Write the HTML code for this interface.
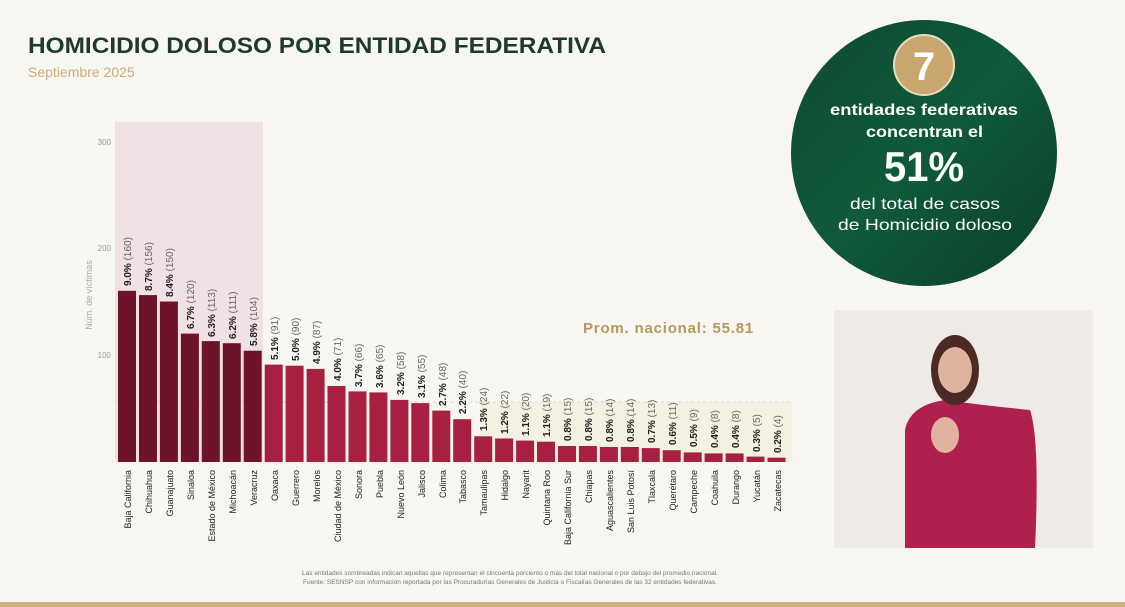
<!DOCTYPE html>
<html><head><meta charset="utf-8"><style>
html,body{margin:0;padding:0;width:1125px;height:607px;overflow:hidden;background:#f8f6f1;font-family:"Liberation Sans",sans-serif}
</style></head><body>
<svg width="1125" height="607" viewBox="0 0 1125 607" xmlns="http://www.w3.org/2000/svg" font-family="Liberation Sans, sans-serif">
<defs>
<linearGradient id="g" x1="0" y1="0" x2="1" y2="1"><stop offset="0" stop-color="#0f4a32"/><stop offset="0.5" stop-color="#0f5a3a"/><stop offset="1" stop-color="#0c3e2a"/></linearGradient>
</defs>
<rect width="1125" height="607" fill="#f8f6f1"/>
<text x="28" y="53" font-size="22" font-weight="bold" fill="#1d3a2b" textLength="578" lengthAdjust="spacingAndGlyphs">HOMICIDIO DOLOSO POR ENTIDAD FEDERATIVA</text>
<text x="28" y="77" font-size="14" fill="#c8ae72">Septiembre 2025</text>
<rect x="115" y="122" width="148" height="340" fill="#f0e2e4"/>
<rect x="480" y="402" width="312" height="60" fill="#f2f1e2"/>
<line x1="115" y1="402" x2="792" y2="402" stroke="#d8d6c0" stroke-width="1" stroke-dasharray="3,3"/>
<g font-size="8" fill="#9a9a9a" text-anchor="end">
<text x="111" y="145">300</text><text x="111" y="251">200</text><text x="111" y="358">100</text>
</g>
<text transform="translate(92,295) rotate(-90)" font-size="9" fill="#aaa" text-anchor="middle">Núm. de víctimas</text>
<text x="583" y="333" font-size="15" font-weight="bold" fill="#b29a5f" letter-spacing="0.8">Prom. nacional: 55.81</text>
<g fill="#6e1429">
<rect x="118" y="290.8" width="18" height="171.2"/><rect x="139" y="295.1" width="18" height="166.9"/><rect x="159.9" y="301.5" width="18" height="160.5"/><rect x="180.9" y="333.6" width="18" height="128.4"/><rect x="201.8" y="341.1" width="18" height="120.9"/><rect x="222.8" y="343.2" width="18" height="118.8"/><rect x="243.7" y="350.7" width="18" height="111.3"/>
</g>
<g fill="#a8203f">
<rect x="264.7" y="364.6" width="18" height="97.4"/><rect x="285.6" y="365.7" width="18" height="96.3"/><rect x="306.6" y="368.9" width="18" height="93.1"/><rect x="327.5" y="386" width="18" height="76"/><rect x="348.5" y="391.4" width="18" height="70.6"/><rect x="369.4" y="392.4" width="18" height="69.6"/><rect x="390.4" y="399.9" width="18" height="62.1"/><rect x="411.3" y="403.1" width="18" height="58.9"/><rect x="432.3" y="410.6" width="18" height="51.4"/><rect x="453.2" y="419.2" width="18" height="42.8"/><rect x="474.2" y="436.3" width="18" height="25.7"/><rect x="495.1" y="438.5" width="18" height="23.5"/><rect x="516.1" y="440.6" width="18" height="21.4"/><rect x="537" y="441.7" width="18" height="20.3"/><rect x="558" y="446" width="18" height="16"/><rect x="578.9" y="446" width="18" height="16"/><rect x="599.9" y="447" width="18" height="15"/><rect x="620.8" y="447" width="18" height="15"/><rect x="641.8" y="448.1" width="18" height="13.9"/><rect x="662.7" y="450.2" width="18" height="11.8"/><rect x="683.7" y="452.4" width="18" height="9.6"/><rect x="704.6" y="453.4" width="18" height="8.6"/><rect x="725.6" y="453.4" width="18" height="8.6"/><rect x="746.5" y="456.6" width="18" height="5.4"/><rect x="767.5" y="457.7" width="18" height="4.3"/>
</g>
<g font-size="10" fill="#222" font-weight="bold">
<text transform="translate(131,286) rotate(-90)">9.0% <tspan font-weight="normal" fill="#666">(160)</tspan></text>
<text transform="translate(152,291) rotate(-90)">8.7% <tspan font-weight="normal" fill="#666">(156)</tspan></text>
<text transform="translate(173,297) rotate(-90)">8.4% <tspan font-weight="normal" fill="#666">(150)</tspan></text>
<text transform="translate(194,329) rotate(-90)">6.7% <tspan font-weight="normal" fill="#666">(120)</tspan></text>
<text transform="translate(215,337) rotate(-90)">6.3% <tspan font-weight="normal" fill="#666">(113)</tspan></text>
<text transform="translate(236,339) rotate(-90)">6.2% <tspan font-weight="normal" fill="#666">(111)</tspan></text>
<text transform="translate(257,346) rotate(-90)">5.8% <tspan font-weight="normal" fill="#666">(104)</tspan></text>
<text transform="translate(278,360) rotate(-90)">5.1% <tspan font-weight="normal" fill="#666">(91)</tspan></text>
<text transform="translate(299,361) rotate(-90)">5.0% <tspan font-weight="normal" fill="#666">(90)</tspan></text>
<text transform="translate(320,364) rotate(-90)">4.9% <tspan font-weight="normal" fill="#666">(87)</tspan></text>
<text transform="translate(341,381) rotate(-90)">4.0% <tspan font-weight="normal" fill="#666">(71)</tspan></text>
<text transform="translate(362,387) rotate(-90)">3.7% <tspan font-weight="normal" fill="#666">(66)</tspan></text>
<text transform="translate(383,388) rotate(-90)">3.6% <tspan font-weight="normal" fill="#666">(65)</tspan></text>
<text transform="translate(404,395) rotate(-90)">3.2% <tspan font-weight="normal" fill="#666">(58)</tspan></text>
<text transform="translate(425,398) rotate(-90)">3.1% <tspan font-weight="normal" fill="#666">(55)</tspan></text>
<text transform="translate(446,406) rotate(-90)">2.7% <tspan font-weight="normal" fill="#666">(48)</tspan></text>
<text transform="translate(466,414) rotate(-90)">2.2% <tspan font-weight="normal" fill="#666">(40)</tspan></text>
<text transform="translate(487,431) rotate(-90)">1.3% <tspan font-weight="normal" fill="#666">(24)</tspan></text>
<text transform="translate(508,434) rotate(-90)">1.2% <tspan font-weight="normal" fill="#666">(22)</tspan></text>
<text transform="translate(529,436) rotate(-90)">1.1% <tspan font-weight="normal" fill="#666">(20)</tspan></text>
<text transform="translate(550,437) rotate(-90)">1.1% <tspan font-weight="normal" fill="#666">(19)</tspan></text>
<text transform="translate(571,441) rotate(-90)">0.8% <tspan font-weight="normal" fill="#666">(15)</tspan></text>
<text transform="translate(592,441) rotate(-90)">0.8% <tspan font-weight="normal" fill="#666">(15)</tspan></text>
<text transform="translate(613,442) rotate(-90)">0.8% <tspan font-weight="normal" fill="#666">(14)</tspan></text>
<text transform="translate(634,442) rotate(-90)">0.8% <tspan font-weight="normal" fill="#666">(14)</tspan></text>
<text transform="translate(655,443) rotate(-90)">0.7% <tspan font-weight="normal" fill="#666">(13)</tspan></text>
<text transform="translate(676,445) rotate(-90)">0.6% <tspan font-weight="normal" fill="#666">(11)</tspan></text>
<text transform="translate(697,447) rotate(-90)">0.5% <tspan font-weight="normal" fill="#666">(9)</tspan></text>
<text transform="translate(718,448) rotate(-90)">0.4% <tspan font-weight="normal" fill="#666">(8)</tspan></text>
<text transform="translate(739,448) rotate(-90)">0.4% <tspan font-weight="normal" fill="#666">(8)</tspan></text>
<text transform="translate(760,452) rotate(-90)">0.3% <tspan font-weight="normal" fill="#666">(5)</tspan></text>
<text transform="translate(781,453) rotate(-90)">0.2% <tspan font-weight="normal" fill="#666">(4)</tspan></text>
</g>
<g font-size="9" fill="#222" text-anchor="end">
<text transform="translate(131,470) rotate(-90)">Baja California</text>
<text transform="translate(152,470) rotate(-90)">Chihuahua</text>
<text transform="translate(173,470) rotate(-90)">Guanajuato</text>
<text transform="translate(194,470) rotate(-90)">Sinaloa</text>
<text transform="translate(215,470) rotate(-90)">Estado de México</text>
<text transform="translate(236,470) rotate(-90)">Michoacán</text>
<text transform="translate(257,470) rotate(-90)">Veracruz</text>
<text transform="translate(278,470) rotate(-90)">Oaxaca</text>
<text transform="translate(299,470) rotate(-90)">Guerrero</text>
<text transform="translate(320,470) rotate(-90)">Morelos</text>
<text transform="translate(341,470) rotate(-90)">Ciudad de México</text>
<text transform="translate(362,470) rotate(-90)">Sonora</text>
<text transform="translate(383,470) rotate(-90)">Puebla</text>
<text transform="translate(404,470) rotate(-90)">Nuevo León</text>
<text transform="translate(425,470) rotate(-90)">Jalisco</text>
<text transform="translate(446,470) rotate(-90)">Colima</text>
<text transform="translate(466,470) rotate(-90)">Tabasco</text>
<text transform="translate(487,470) rotate(-90)">Tamaulipas</text>
<text transform="translate(508,470) rotate(-90)">Hidalgo</text>
<text transform="translate(529,470) rotate(-90)">Nayarit</text>
<text transform="translate(550,470) rotate(-90)">Quintana Roo</text>
<text transform="translate(571,470) rotate(-90)">Baja California Sur</text>
<text transform="translate(592,470) rotate(-90)">Chiapas</text>
<text transform="translate(613,470) rotate(-90)">Aguascalientes</text>
<text transform="translate(634,470) rotate(-90)">San Luis Potosí</text>
<text transform="translate(655,470) rotate(-90)">Tlaxcala</text>
<text transform="translate(676,470) rotate(-90)">Querétaro</text>
<text transform="translate(697,470) rotate(-90)">Campeche</text>
<text transform="translate(718,470) rotate(-90)">Coahuila</text>
<text transform="translate(739,470) rotate(-90)">Durango</text>
<text transform="translate(760,470) rotate(-90)">Yucatán</text>
<text transform="translate(781,470) rotate(-90)">Zacatecas</text>
</g>
<g font-size="6.5" fill="#777" text-anchor="middle">
<text x="510" y="575">Las entidades sombreadas indican aquellas que representan el cincuenta porciento o más del total nacional o por debajo del promedio nacional.</text>
<text x="510" y="584">Fuente: SESNSP con información reportada por las Procuradurías Generales de Justicia o Fiscalías Generales de las 32 entidades federativas.</text>
</g>
<circle cx="924" cy="153" r="133" fill="url(#g)"/>
<circle cx="924" cy="65" r="30" fill="#c9a66e" stroke="#e8dcc0" stroke-width="2"/>
<text x="924" y="80" font-size="40" font-weight="bold" fill="#fff" text-anchor="middle">7</text>
<g fill="#fff" font-weight="bold">
<text x="830" y="115" font-size="16" textLength="188" lengthAdjust="spacingAndGlyphs">entidades federativas</text>
<text x="866" y="137" font-size="16" textLength="117" lengthAdjust="spacingAndGlyphs">concentran el</text>
<text x="884" y="181" font-size="42" textLength="80" lengthAdjust="spacingAndGlyphs">51%</text>
<text x="850" y="209" font-size="16" font-weight="normal" textLength="150" lengthAdjust="spacingAndGlyphs">del total de casos</text>
<text x="838" y="230" font-size="16" font-weight="normal" textLength="174" lengthAdjust="spacingAndGlyphs">de Homicidio doloso</text>
</g>
<rect x="834" y="310" width="259" height="238" fill="#eeebe6"/>
<path d="M905 548 L905 430 Q910 405 945 400 Q980 405 1030 410 Q1040 440 1035 548 Z" fill="#b0204e"/>
<ellipse cx="955" cy="370" rx="24" ry="35" fill="#4a2a22"/>
<ellipse cx="955" cy="370" rx="17" ry="23" fill="#e0b39e"/>
<ellipse cx="945" cy="435" rx="14" ry="18" fill="#e0b39e"/>
<rect x="0" y="602" width="1125" height="5" fill="#c9b27d"/>
</svg>
</body></html>
